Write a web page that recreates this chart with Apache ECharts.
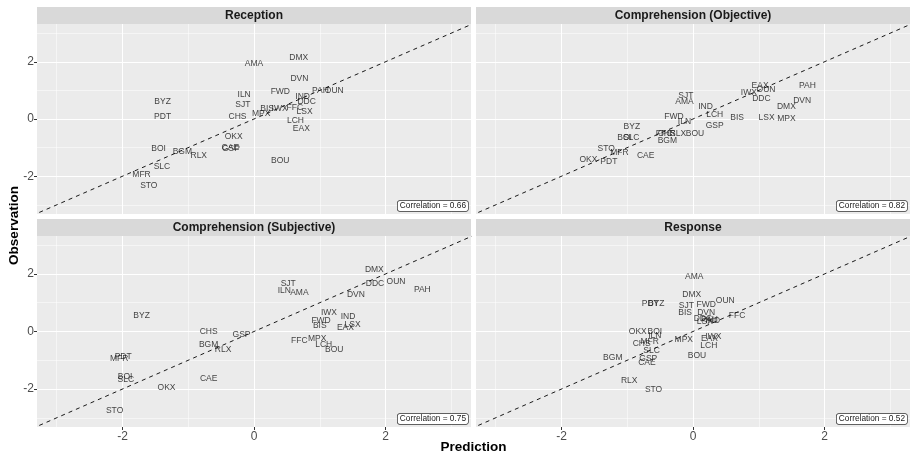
<!DOCTYPE html>
<html><head><meta charset="utf-8">
<script src="https://cdn.jsdelivr.net/npm/echarts@6/dist/echarts.min.js"></script>
<style>html,body{margin:0;padding:0;background:#fff}#c{width:910px;height:454px}</style>
</head><body><div id="c"></div><script>
const stations = ['AMA','BGM','BIS','BOI','BOU','BYZ','CAE','CHS','DDC','DMX','DVN','EAX','FFC','FWD','GSP','ILN','IND','IWX','LCH','LSX','MFR','MPX','OKX','OUN','PAH','PDT','RLX','SJT','SLC','STO'];

const receptionPred = [0.00,-1.09,0.20,-1.45,0.40,-1.39,-0.36,-0.25,0.80,0.68,0.69,0.72,0.62,0.40,-0.35,-0.15,0.74,0.39,0.63,0.77,-1.71,0.11,-0.31,1.22,1.01,-1.39,-0.84,-0.17,-1.40,-1.60];
const receptionObs  = [1.92,-1.13,0.35,-1.04,-1.45,0.60,-1.00,0.09,0.62,2.15,1.41,-0.34,0.38,0.94,-1.05,0.85,0.77,0.37,-0.05,0.27,-1.95,0.17,-0.62,0.99,1.00,0.07,-1.28,0.50,-1.67,-2.32];

const objectivePred = [-0.13,-0.39,0.67,-1.04,0.03,-0.93,-0.72,-0.40,1.04,1.42,1.66,1.02,-0.44,-0.29,0.33,-0.13,0.19,0.85,0.33,1.12,-1.12,1.42,-1.59,1.11,1.74,-1.28,-0.23,-0.11,-0.94,-1.32];
const objectiveObs  = [0.60,-0.75,0.03,-0.65,-0.51,-0.26,-1.28,-0.52,0.72,0.43,0.64,1.17,-0.50,0.07,-0.23,-0.08,0.42,0.91,0.16,0.06,-1.16,0.01,-1.41,1.02,1.16,-1.48,-0.51,0.80,-0.65,-1.04];

const subjectivePred = [0.69,-0.69,1.00,-1.96,1.22,-1.71,-0.69,-0.69,1.84,1.83,1.55,1.39,0.69,1.02,-0.19,0.46,1.43,1.14,1.06,1.50,-2.05,0.96,-1.33,2.16,2.56,-1.99,-0.47,0.52,-1.95,-2.12];
const subjectiveObs  = [1.34,-0.45,0.20,-1.56,-0.62,0.54,-1.63,-0.02,1.66,2.15,1.29,0.15,-0.31,0.37,-0.11,1.41,0.50,0.67,-0.46,0.23,-0.96,-0.25,-1.96,1.72,1.44,-0.86,-0.64,1.67,-1.66,-2.76];

const responsePred = [0.02,-1.22,-0.12,-0.58,0.06,-0.56,-0.70,-0.78,0.15,-0.02,0.20,0.25,0.67,0.20,-0.68,-0.58,0.30,0.31,0.24,0.18,-0.66,-0.14,-0.84,0.49,0.25,-0.65,-0.97,-0.10,-0.63,-0.60];
const responseObs  = [1.90,-0.92,0.66,-0.01,-0.83,0.96,-1.07,-0.41,0.46,1.29,0.64,-0.24,0.54,0.94,-0.96,-0.16,0.37,-0.18,-0.50,0.33,-0.37,-0.30,-0.01,1.08,0.40,0.96,-1.72,0.89,-0.65,-2.01];

const panelTitles = ['Reception','Comprehension (Objective)','Comprehension (Subjective)','Response'];
const correlations = ['0.66','0.82','0.75','0.52'];
const tickValues = [-2,0,2];
const minorValues = [-3,-1,1,3];
const xRange = [-3.3,3.3];
const yRange = [-3.32,3.32];
const refLine = [-3.6,3.6];

const preds = [receptionPred, objectivePred, subjectivePred, responsePred];
const obss = [receptionObs, objectiveObs, subjectiveObs, responseObs];

const FONT = 'Liberation Sans, Arial, Helvetica, sans-serif';
const panels = [
  {left:37, top:24, width:434, height:190},
  {left:476, top:24, width:434, height:190},
  {left:37, top:236, width:434, height:191},
  {left:476, top:236, width:434, height:191}
];
const stripH = 17;

const chart = echarts.init(document.getElementById('c'), null, {renderer:'canvas'});

const grids = panels.map(p => ({left:p.left, top:p.top, width:p.width, height:p.height,
  show:true, backgroundColor:'#ebebeb', borderWidth:0, containLabel:false}));

const xAxes = [], yAxes = [];
panels.forEach((p,i) => {
  const showX = i >= 2, showY = i % 2 === 0;
  xAxes.push({type:'value', gridIndex:i, min:xRange[0], max:xRange[1], position:'bottom',
    axisLine:{show:false, onZero:false},
    axisTick:{show:showX, length:3, customValues:tickValues, lineStyle:{color:'#333', width:1}},
    axisLabel:{show:showX, customValues:tickValues, margin:4, color:'#4d4d4d', fontSize:12, fontFamily:FONT},
    splitLine:{show:true, lineStyle:{color:'#ffffff', width:1.1}}});
  yAxes.push({type:'value', gridIndex:i, min:yRange[0], max:yRange[1], position:'left',
    axisLine:{show:false, onZero:false},
    axisTick:{show:showY, length:3, customValues:tickValues, lineStyle:{color:'#333', width:1}},
    axisLabel:{show:showY, customValues:tickValues, margin:3, color:'#4d4d4d', fontSize:12, fontFamily:FONT},
    splitLine:{show:true, lineStyle:{color:'#ffffff', width:1.1}}});
});
panels.forEach((p,i) => {
  xAxes.push({type:'value', gridIndex:i, min:xRange[0], max:xRange[1], position:'bottom',
    axisLine:{show:false, onZero:false}, axisTick:{show:false, customValues:minorValues},
    axisLabel:{show:false, customValues:minorValues},
    splitLine:{show:true, lineStyle:{color:'#ffffff', width:0.5}}});
  yAxes.push({type:'value', gridIndex:i, min:yRange[0], max:yRange[1], position:'left',
    axisLine:{show:false, onZero:false}, axisTick:{show:false, customValues:minorValues},
    axisLabel:{show:false, customValues:minorValues},
    splitLine:{show:true, lineStyle:{color:'#ffffff', width:0.5}}});
});

const series = [];
panels.forEach((p,i) => {
  series.push({type:'line', xAxisIndex:i, yAxisIndex:i, data:[[refLine[0],refLine[0]],[refLine[1],refLine[1]]],
    showSymbol:false, symbol:'none', silent:true, clip:true, z:2,
    lineStyle:{color:'#000', width:0.9, type:[4,4]}});
  series.push({type:'scatter', xAxisIndex:i, yAxisIndex:i, symbolSize:1, z:3,
    itemStyle:{color:'rgba(0,0,0,0)'},
    data: stations.map((s,k) => ({name:s, value:[preds[i][k], obss[i][k]]})),
    label:{show:true, position:'inside', formatter:'{b}', color:'#111', fontSize:8.5, fontFamily:FONT, align:'center', verticalAlign:'middle'},
    labelLayout:{hideOverlap:false},
    emphasis:{disabled:true}, silent:true});
});

const graphics = [];
panels.forEach((p,i) => {
  graphics.push({type:'rect', shape:{x:p.left, y:p.top-stripH, width:p.width, height:stripH},
    style:{fill:'#d9d9d9'}, silent:true});
  graphics.push({type:'text', x:p.left+p.width/2, y:p.top-stripH/2,
    style:{text:panelTitles[i], font:'bold 12px '+FONT, fill:'#1a1a1a', textAlign:'center', textVerticalAlign:'middle'}, silent:true});
  graphics.push({type:'text', x:p.left+p.width-3, y:p.top+p.height-3,
    style:{text:'Correlation = '+correlations[i], font:'8.3px '+FONT, fill:'#1a1a1a', textAlign:'right', textVerticalAlign:'bottom',
      backgroundColor:'#ffffff', borderColor:'#333', borderWidth:0.7, borderRadius:2, padding:[1,2,1,2]}, z:10, silent:true});
});
graphics.push({type:'text', x:(37+910)/2, y:447, style:{text:'Prediction', font:'bold 13.5px '+FONT, fill:'#000', textAlign:'center', textVerticalAlign:'middle'}});
graphics.push({type:'text', x:14, y:(24+427)/2, rotation:Math.PI/2, style:{text:'Observation', font:'bold 13.5px '+FONT, fill:'#000', textAlign:'center', textVerticalAlign:'middle'}});

chart.setOption({
  animation:false,
  backgroundColor:'#ffffff',
  grid:grids, xAxis:xAxes, yAxis:yAxes, series:series, graphic:graphics
});
</script></body></html>
